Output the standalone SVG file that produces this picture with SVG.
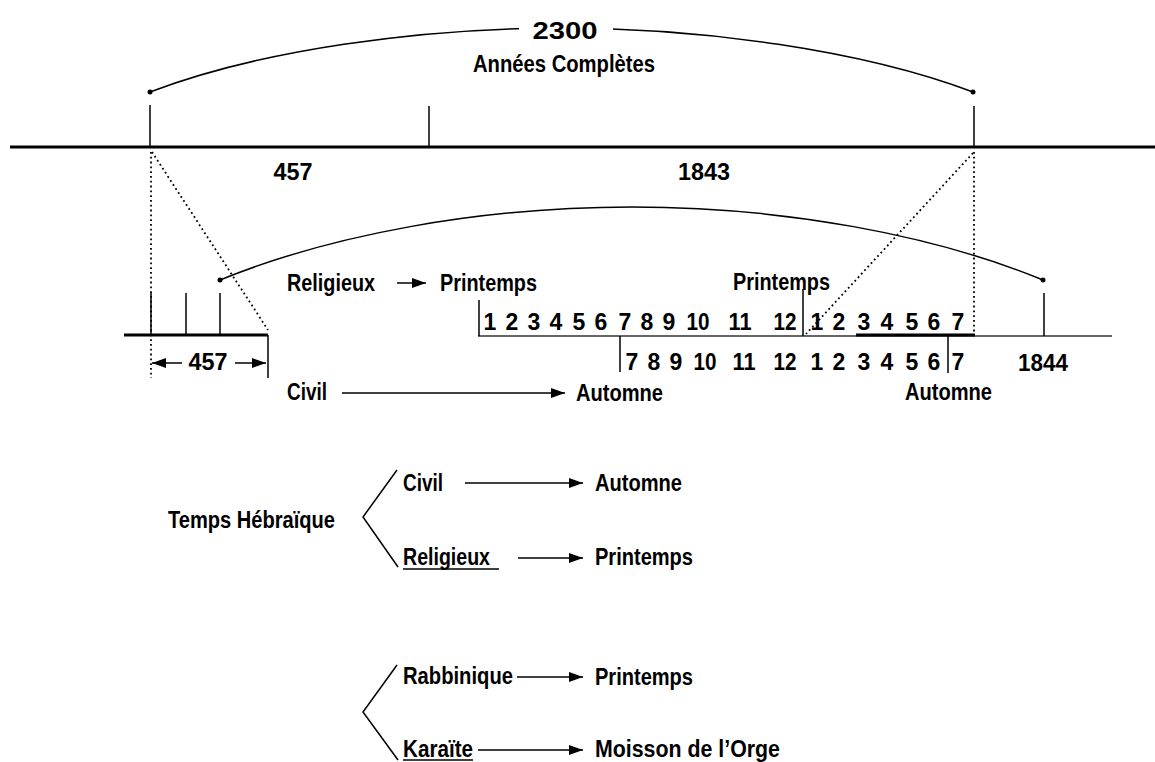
<svg xmlns="http://www.w3.org/2000/svg" width="1155" height="762" viewBox="0 0 1155 762">
<defs>
<style>
.t{font-family:"Liberation Sans",Arial,sans-serif;font-weight:bold;fill:#000;font-size:23px}
.n{text-anchor:middle}
.ln{stroke:#000;stroke-width:1.5;fill:none}
.thick{stroke:#000;stroke-width:3;fill:none}
.dot{stroke:#000;stroke-width:1.8;stroke-dasharray:1.8 3;fill:none}
.arr{stroke:#000;stroke-width:1.5;fill:none;marker-end:url(#ah)}
</style>
<marker id="ah" viewBox="0 0 14 10" refX="14" refY="5" markerWidth="14" markerHeight="10" markerUnits="userSpaceOnUse" orient="auto">
<path d="M0,0 L14,5 L0,10 Z" fill="#000"/>
</marker>
</defs>
<rect width="1155" height="762" fill="#fff"/>

<g id="connectors">
<line class="thick" x1="10" y1="147" x2="1155" y2="147"/>
<line class="ln" x1="150" y1="105" x2="150" y2="147"/>
<line class="ln" x1="429" y1="106" x2="429" y2="147"/>
<line class="ln" x1="974" y1="106" x2="974" y2="147"/>
<path class="ln" d="M150,92 C260,50 420,28 561,28 C702,28 862,50 973,92"/>
<circle cx="150" cy="92" r="2.5" fill="#000"/>
<circle cx="973" cy="92" r="2.5" fill="#000"/>
<rect x="519" y="14" width="94" height="26" fill="#fff"/>
<line class="dot" x1="151" y1="152" x2="151" y2="378"/>
<line class="dot" x1="152" y1="152" x2="268" y2="330"/>
<line class="dot" x1="974" y1="152" x2="974" y2="335"/>
<line class="dot" x1="973" y1="153" x2="806" y2="334"/>
<path class="ln" d="M220,280 C330,235 480,207 632,207 C784,207 934,235 1043,280"/>
<circle cx="220" cy="280" r="2.5" fill="#000"/>
<circle cx="1043" cy="280" r="2.5" fill="#000"/>
<line class="thick" x1="124" y1="335" x2="268" y2="335"/>
<line class="ln" x1="151" y1="293" x2="151" y2="335"/>
<line class="ln" x1="186" y1="293" x2="186" y2="335"/>
<line class="ln" x1="220" y1="293" x2="220" y2="335"/>
<line class="ln" x1="268" y1="335" x2="268" y2="378"/>
<line class="arr" x1="182" y1="363" x2="152" y2="363"/>
<line class="arr" x1="235" y1="363" x2="266" y2="363"/>
<line stroke="#333" stroke-width="1.6" x1="478" y1="336" x2="1112" y2="336"/>
<line class="thick" x1="856" y1="335" x2="975" y2="335"/>
<line class="ln" x1="479" y1="300" x2="479" y2="336"/>
<line class="ln" x1="803" y1="289" x2="803" y2="336"/>
<line class="ln" x1="1044" y1="293" x2="1044" y2="336"/>
<line class="ln" x1="620" y1="336" x2="620" y2="372"/>
<line class="ln" x1="948" y1="336" x2="948" y2="373"/>
<line class="arr" x1="397" y1="283" x2="426" y2="283"/>
<line class="arr" x1="342" y1="393" x2="565" y2="393"/>
<polyline class="ln" points="397,470 363,517 398,567"/>
<line class="arr" x1="465" y1="483" x2="583" y2="483"/>
<line class="arr" x1="518" y1="558" x2="583" y2="558"/>
<polyline class="ln" points="397,665 363,712 398,760"/>
<line class="arr" x1="517" y1="677" x2="583" y2="677"/>
<line class="arr" x1="478" y1="750" x2="583" y2="750"/>
<line class="ln" x1="403" y1="569" x2="499" y2="569"/>
<line class="ln" x1="403" y1="760" x2="473" y2="760"/>
</g>

<g id="top-labels">
<text class="t n" x="565" y="39" font-size="30" textLength="65" lengthAdjust="spacingAndGlyphs">2300</text>
<text class="t n" x="564" y="72" font-size="24" textLength="182" lengthAdjust="spacingAndGlyphs">Années Complètes</text>
<text class="t n" x="293" y="180" font-size="22" textLength="39" lengthAdjust="spacingAndGlyphs">457</text>
<text class="t n" x="704" y="180" font-size="22" textLength="52" lengthAdjust="spacingAndGlyphs">1843</text>
</g>

<g id="timeline-labels">
<text class="t" x="287" y="291" textLength="88" lengthAdjust="spacingAndGlyphs">Religieux</text>
<text class="t" x="440" y="291" textLength="97" lengthAdjust="spacingAndGlyphs">Printemps</text>
<text class="t" x="733" y="290" textLength="97" lengthAdjust="spacingAndGlyphs">Printemps</text>
<text class="t" x="287" y="400" textLength="40" lengthAdjust="spacingAndGlyphs">Civil</text>
<text class="t" x="576" y="401" textLength="87" lengthAdjust="spacingAndGlyphs">Automne</text>
<text class="t" x="905" y="400" textLength="87" lengthAdjust="spacingAndGlyphs">Automne</text>
<text class="t n" x="208" y="370" textLength="39" lengthAdjust="spacingAndGlyphs">457</text>
<text class="t n" x="1043" y="371" textLength="50" lengthAdjust="spacingAndGlyphs">1844</text>
</g>

<g id="months-row1">
<text class="t n" x="490" y="330">1</text>
<text class="t n" x="512" y="330">2</text>
<text class="t n" x="534" y="330">3</text>
<text class="t n" x="556" y="330">4</text>
<text class="t n" x="579" y="330">5</text>
<text class="t n" x="601" y="330">6</text>
<text class="t n" x="625" y="330">7</text>
<text class="t n" x="647" y="330">8</text>
<text class="t n" x="669" y="330">9</text>
<text class="t n" x="698" y="330" textLength="23" lengthAdjust="spacingAndGlyphs">10</text>
<text class="t n" x="740" y="330" textLength="23" lengthAdjust="spacingAndGlyphs">11</text>
<text class="t n" x="785" y="330" textLength="23" lengthAdjust="spacingAndGlyphs">12</text>
<text class="t n" x="817" y="330">1</text>
<text class="t n" x="839" y="330">2</text>
<text class="t n" x="864" y="330">3</text>
<text class="t n" x="887" y="330">4</text>
<text class="t n" x="912" y="330">5</text>
<text class="t n" x="934" y="330">6</text>
<text class="t n" x="958" y="330">7</text>
</g>

<g id="months-row2">
<text class="t n" x="632" y="370">7</text>
<text class="t n" x="654" y="370">8</text>
<text class="t n" x="676" y="370">9</text>
<text class="t n" x="705" y="370" textLength="23" lengthAdjust="spacingAndGlyphs">10</text>
<text class="t n" x="744" y="370" textLength="23" lengthAdjust="spacingAndGlyphs">11</text>
<text class="t n" x="785" y="370" textLength="23" lengthAdjust="spacingAndGlyphs">12</text>
<text class="t n" x="817" y="370">1</text>
<text class="t n" x="839" y="370">2</text>
<text class="t n" x="864" y="370">3</text>
<text class="t n" x="887" y="370">4</text>
<text class="t n" x="912" y="370">5</text>
<text class="t n" x="934" y="370">6</text>
<text class="t n" x="958" y="370">7</text>
</g>

<g id="temps-hebraique">
<text class="t" x="168" y="528" font-size="24" textLength="167" lengthAdjust="spacingAndGlyphs">Temps Hébraïque</text>
<text class="t" x="403" y="491" textLength="40" lengthAdjust="spacingAndGlyphs">Civil</text>
<text class="t" x="595" y="491" textLength="87" lengthAdjust="spacingAndGlyphs">Automne</text>
<text class="t" x="403" y="565" textLength="87" lengthAdjust="spacingAndGlyphs">Religieux</text>
<text class="t" x="595" y="565" textLength="98" lengthAdjust="spacingAndGlyphs">Printemps</text>
</g>

<g id="calendriers">
<text class="t" x="403" y="684" textLength="110" lengthAdjust="spacingAndGlyphs">Rabbinique</text>
<text class="t" x="595" y="685" textLength="98" lengthAdjust="spacingAndGlyphs">Printemps</text>
<text class="t" x="403" y="757" textLength="70" lengthAdjust="spacingAndGlyphs">Karaïte</text>
<text class="t" x="595" y="757" textLength="185" lengthAdjust="spacingAndGlyphs">Moisson de l’Orge</text>
</g>
</svg>
